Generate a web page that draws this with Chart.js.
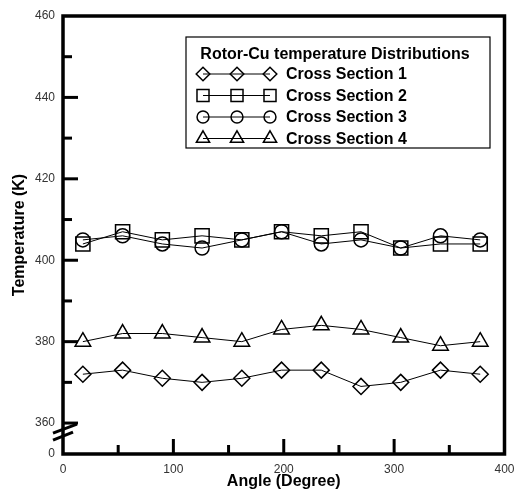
<!DOCTYPE html>
<html>
<head>
<meta charset="utf-8">
<script src="https://cdn.jsdelivr.net/npm/chart.js@4.4.0/dist/chart.umd.min.js"></script>
<style>
  html, body { margin: 0; padding: 0; background: #fff; }
  #wrap { width: 516px; height: 494px; }
</style>
</head>
<body>
<div id="wrap"><canvas id="chart" width="516" height="494"></canvas></div>
<script>
// data
const angles = [18, 54, 90, 126, 162, 198, 234, 270, 306, 342, 378];
const section1 = [372, 373, 371, 370, 371, 373, 373, 369, 370, 373, 372];
const section2 = [404, 407, 405, 406, 405, 407, 406, 407, 403, 404, 404];
const section3 = [405, 406, 404, 403, 405, 407, 404, 405, 403, 406, 405];
const section4 = [380, 382, 382, 381, 380, 383, 384, 383, 381, 379, 380];

const seriesNames = ["Cross Section 1", "Cross Section 2", "Cross Section 3", "Cross Section 4"];
const markerShapes = ["rectRot", "rect", "circle", "triangle"];
const markerSizes = [8, 10, 7, 9];
const legendTitle = "Rotor-Cu temperature Distributions";

const xTicks = [0, 100, 200, 300, 400];
const xMinorTicks = [50, 150, 250, 350];
const yTicks = [360, 380, 400, 420, 440, 460];
const yMinorTicks = [370, 390, 410, 430, 450];
const yBreakValue = 352.4; // bottom of the broken axis, labelled "0"

const FONT = "'Liberation Sans', Arial, sans-serif";

function drawMarker(ctx, shape, r, x, y) {
  ctx.save();
  ctx.fillStyle = "rgba(0,0,0,0)";
  ctx.strokeStyle = "#000";
  ctx.lineWidth = 1.5;
  Chart.helpers.drawPoint(ctx, { pointStyle: shape, radius: r, rotation: 0, borderWidth: 1.5 }, x, y);
  ctx.restore();
}

const framePlugin = {
  id: "frame",
  afterDraw(chart) {
    const { ctx, chartArea: a, scales } = chart;
    const xs = scales.x, ys = scales.y;
    ctx.save();
    ctx.strokeStyle = "#000";
    ctx.lineCap = "butt";

    // inward tick marks
    ctx.lineWidth = 3;
    const tick = (x1, y1, x2, y2) => { ctx.beginPath(); ctx.moveTo(x1, y1); ctx.lineTo(x2, y2); ctx.stroke(); };
    xTicks.slice(1, -1).forEach(v => { const p = xs.getPixelForValue(v); tick(p, a.bottom, p, a.bottom - 15); });
    xMinorTicks.forEach(v => { const p = xs.getPixelForValue(v); tick(p, a.bottom, p, a.bottom - 9); });
    yTicks.slice(0, -1).forEach(v => { const p = ys.getPixelForValue(v); tick(a.left, p, a.left + 15, p); });
    yMinorTicks.forEach(v => { const p = ys.getPixelForValue(v); tick(a.left, p, a.left + 9, p); });

    // frame
    ctx.lineWidth = 3.5;
    ctx.strokeRect(a.left, a.top, a.right - a.left, a.bottom - a.top);

    // axis break marks
    const yb = ys.getPixelForValue(360);
    ctx.lineWidth = 3;
    tick(a.left - 10, yb + 10, a.left + 14, yb + 1);
    tick(a.left - 10, yb + 17, a.left + 10, yb + 9);

    // legend box
    const bx = 186, by = 37, bw = 304, bh = 111;
    ctx.lineWidth = 1.2;
    ctx.strokeRect(bx, by, bw, bh);
    ctx.fillStyle = "#000";
    ctx.font = "bold 16px " + FONT;
    ctx.textBaseline = "middle";
    ctx.textAlign = "center";
    ctx.fillText(legendTitle, 335, 55);
    ctx.textAlign = "left";
    chart.data.datasets.forEach((ds, i) => {
      const ry = 74 + i * 21.5;
      const mx = [203, 237, 270];
      ctx.lineWidth = 1;
      tick(mx[0], ry, mx[2], ry);
      mx.forEach(x => drawMarker(ctx, ds.pointStyle, ds.pointRadius * 0.85, x, ry));
      ctx.fillStyle = "#000";
      ctx.fillText(ds.label, 286, ry + 1);
    });
    ctx.restore();
  }
};

const seriesData = [section1, section2, section3, section4];

new Chart(document.getElementById("chart").getContext("2d"), {
  type: "line",
  data: {
    datasets: seriesData.map((vals, i) => ({
      label: seriesNames[i],
      data: vals.map((v, j) => ({ x: angles[j], y: v })),
      borderColor: "#000",
      borderWidth: 1,
      pointStyle: markerShapes[i],
      pointRadius: markerSizes[i],
      pointBorderWidth: 1.5,
      pointBorderColor: "#000",
      pointBackgroundColor: "rgba(0,0,0,0)",
      fill: false,
      tension: 0,
    })),
  },
  options: {
    responsive: false,
    animation: false,
    layout: { padding: { top: 16, right: 11, left: 0, bottom: 0 } },
    plugins: { legend: { display: false }, tooltip: { enabled: false } },
    scales: {
      x: {
        type: "linear",
        min: 0,
        max: 400,
        afterBuildTicks: s => { s.ticks = xTicks.map(v => ({ value: v })); },
        afterFit: s => { s.height = 40; s.paddingLeft = 0; s.paddingRight = 0; },
        grid: { display: false, drawTicks: false },
        border: { display: false },
        ticks: { color: "#333", font: { family: FONT, size: 12 }, padding: 8, maxRotation: 0 },
        title: { display: true, text: "Angle (Degree)", color: "#000", font: { family: FONT, size: 16, weight: "bold" }, padding: { top: 0, bottom: 3 } },
      },
      y: {
        min: yBreakValue,
        max: 460,
        afterBuildTicks: s => { s.ticks = [yBreakValue, ...yTicks].map(v => ({ value: v })); },
        afterFit: s => { s.width = 63; s.paddingTop = 0; s.paddingBottom = 0; },
        grid: { display: false, drawTicks: false },
        border: { display: false },
        ticks: { color: "#333", font: { family: FONT, size: 12 }, padding: 8, callback: v => (v < 360 ? "0" : v) },
        title: { display: true, text: "Temperature (K)", color: "#000", font: { family: FONT, size: 16, weight: "bold" }, padding: { top: 10, bottom: 0 } },
      },
    },
  },
  plugins: [framePlugin],
});
</script>
</body>
</html>
